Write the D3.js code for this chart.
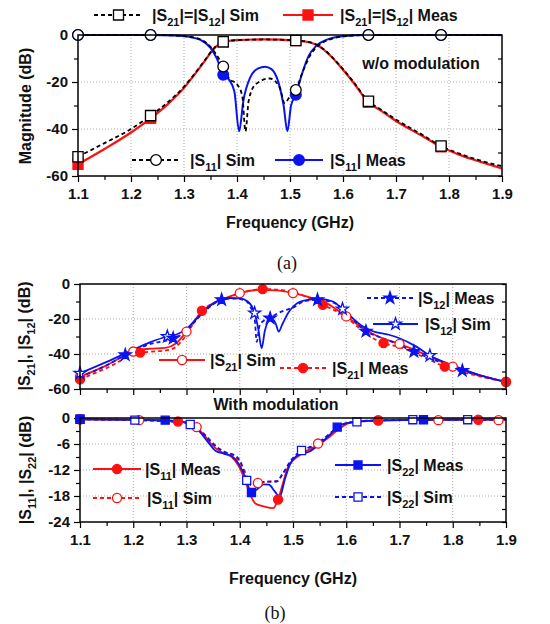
<!DOCTYPE html>
<html>
<head>
<meta charset="utf-8">
<script src="https://cdn.jsdelivr.net/npm/d3@7"></script>
<style>
  body { margin: 0; background: #fff; }
  svg text { font-family: "Liberation Sans", Arial, sans-serif; font-weight: bold; fill: #111; }
</style>
</head>
<body>
<svg id="chart" width="550" height="624"></svg>
<script>
// ---- data (frequency GHz, magnitude dB) ----
const freqTicks = [1.1, 1.2, 1.3, 1.4, 1.5, 1.6, 1.7, 1.8, 1.9]
const dbTicks60 = [0, -20, -40, -60]
const dbTicks24 = [0, -6, -12, -18, -24]

// (a) without modulation
const a_s21Sim = [[1.15,-46],[1.2,-40],[1.27,-28.5],[1.3,-22],[1.32,-16.5],[1.34,-10.5],[1.355,-6],[1.4,-2.2],[1.45,-1.9],[1.54,-3.2],[1.56,-5.5],[1.58,-9.5],[1.6,-14.5],[1.62,-20],[1.67,-31.5],[1.7,-36],[1.75,-42.5],[1.82,-50.5],[1.86,-53.5],[1.9,-55.8]]
const a_s21SimMk = [[1.1,-51.8],[1.237,-34.3],[1.374,-2.9],[1.511,-2.3],[1.648,-28.2],[1.785,-47.2]]
const a_s21Meas = [[1.15,-48.5],[1.2,-41.5],[1.27,-29.3],[1.3,-22.5],[1.32,-16.8],[1.34,-10.8],[1.355,-6.2],[1.4,-2.2],[1.45,-1.9],[1.54,-3.3],[1.56,-5.6],[1.58,-9.7],[1.6,-14.8],[1.62,-20.3],[1.67,-32],[1.7,-36.6],[1.75,-43],[1.82,-51],[1.86,-54],[1.9,-56.8]]
const a_s21MeasMk = [[1.1,-55],[1.237,-35.5],[1.374,-3],[1.511,-2.4],[1.648,-28.7],[1.785,-47.6]]
const a_s11Sim = [[1.2,0],[1.28,-0.2],[1.31,-0.7],[1.33,-1.8],[1.35,-5],[1.36,-8],[1.385,-18.5],[1.4,-21],[1.41,-26],[1.416,-41],[1.422,-28],[1.435,-21],[1.462,-18.5],[1.48,-22],[1.49,-29],[1.5,-26],[1.525,-15],[1.54,-8],[1.56,-3.5],[1.58,-1.5],[1.6,-0.6],[1.9,0]]
const a_s11SimMk = [[1.1,0],[1.237,0],[1.374,-13.4],[1.511,-23.4],[1.648,0],[1.785,0]]
const a_s11Meas = [[1.28,-0.2],[1.31,-0.8],[1.33,-2],[1.35,-5.5],[1.362,-10],[1.385,-19],[1.395,-24],[1.404,-41],[1.412,-28],[1.425,-18],[1.44,-14.2],[1.453,-13.5],[1.465,-14.5],[1.478,-20],[1.488,-30],[1.495,-41],[1.502,-30],[1.522,-17],[1.535,-9],[1.55,-4.5],[1.57,-2],[1.6,-0.5],[1.9,0]]
const a_s11MeasMk = [[1.1,0],[1.237,0],[1.374,-16.9],[1.511,-25.4],[1.648,0],[1.785,0]]

// (b) with modulation, |S21| and |S12|
const b_s21Sim = [[1.15,-46.5],[1.23,-37],[1.26,-36.5],[1.28,-34],[1.32,-19],[1.34,-13],[1.37,-8.5],[1.44,-3.3],[1.47,-3.6],[1.53,-7.5],[1.56,-10.5],[1.63,-25],[1.66,-30],[1.75,-40.5],[1.85,-52]]
const b_s21SimMk = [[1.1,-53],[1.2,-38.6],[1.3,-27.2],[1.4,-5.2],[1.5,-5.2],[1.6,-18.5],[1.7,-34.2],[1.8,-47.2],[1.9,-55.8]]
const b_s21Meas = [[1.15,-48],[1.25,-38.3],[1.27,-37.5],[1.29,-33],[1.31,-24],[1.35,-11],[1.38,-7.5],[1.41,-4.5],[1.48,-3.5],[1.51,-5.5],[1.53,-8],[1.59,-17],[1.62,-24],[1.645,-30],[1.7,-36],[1.74,-41],[1.84,-52]]
const b_s21MeasMk = [[1.1,-54.5],[1.213,-39.2],[1.329,-15.3],[1.443,-2.9],[1.556,-11.9],[1.67,-33.8],[1.785,-47.2],[1.9,-56]]
const b_s12Sim = [[1.15,-44.5],[1.2,-37.5],[1.23,-33.5],[1.28,-29],[1.3,-25.5],[1.32,-19.5],[1.34,-13.5],[1.36,-9.5],[1.38,-8],[1.4,-8.2],[1.415,-10],[1.435,-26],[1.441,-36.7],[1.447,-27],[1.455,-21],[1.463,-20.5],[1.468,-23],[1.473,-27.2],[1.48,-23],[1.49,-17],[1.5,-13],[1.52,-9.5],[1.55,-8.5],[1.575,-10],[1.61,-19],[1.63,-24],[1.65,-27],[1.68,-29],[1.7,-31],[1.73,-35.5],[1.8,-46.5],[1.85,-52],[1.9,-56]]
const b_s12SimMk = [[1.1,-51],[1.264,-30],[1.428,-16.6],[1.593,-14.3],[1.757,-40.9]]
const b_s12Meas = [[1.1,-53],[1.15,-46.5],[1.23,-34.5],[1.3,-27],[1.32,-20],[1.34,-14],[1.39,-8.3],[1.41,-9.5],[1.42,-13],[1.428,-20],[1.432,-33],[1.437,-24],[1.445,-21],[1.47,-17],[1.485,-15],[1.5,-13.5],[1.52,-10],[1.575,-10.5],[1.6,-16],[1.62,-22.5],[1.66,-30],[1.69,-33.5],[1.77,-44],[1.86,-53],[1.9,-56]]
const b_s12MeasMk = [[1.185,-40.5],[1.275,-31],[1.366,-9],[1.457,-19.5],[1.546,-9],[1.637,-27],[1.727,-38.6],[1.818,-49.5]]

// (b) with modulation, |S11| and |S22|
const c_s11Meas = [[1.2,-0.4],[1.31,-1.6],[1.33,-3.5],[1.35,-6.5],[1.37,-8.2],[1.385,-9],[1.4,-11.5],[1.41,-14.5],[1.42,-17.8],[1.43,-19.8],[1.445,-20.4],[1.463,-20.8],[1.48,-15.5],[1.49,-11.5],[1.5,-9.8],[1.52,-8],[1.55,-6],[1.57,-4.2],[1.59,-2.2],[1.61,-1],[1.75,-0.4],[1.9,-0.3]]
const c_s11MeasMk = [[1.1,-0.3],[1.284,-0.8],[1.472,-18.8],[1.66,-0.6],[1.848,-0.4]]
const c_s11Sim = [[1.27,-0.7],[1.3,-1.2],[1.34,-4.5],[1.355,-6.5],[1.375,-8],[1.39,-8.8],[1.4,-10.2],[1.41,-12.5],[1.42,-15.5],[1.45,-14.7],[1.47,-14.6],[1.48,-13],[1.5,-9.5],[1.52,-7.5],[1.57,-3.8],[1.59,-1.8],[1.62,-0.8],[1.9,-0.5]]
const c_s11SimMk = [[1.1,-0.3],[1.211,-0.5],[1.319,-2.1],[1.434,-15],[1.547,-5.9],[1.66,-0.5],[1.773,-0.5],[1.886,-0.5]]
const c_s22Meas = [[1.3,-1],[1.32,-2.5],[1.34,-5.5],[1.355,-7.6],[1.37,-8.2],[1.385,-8.8],[1.4,-11],[1.41,-13.5],[1.435,-16.2],[1.445,-15.3],[1.455,-15.4],[1.465,-16.8],[1.475,-18.2],[1.485,-14],[1.495,-10.5],[1.51,-8.5],[1.53,-7.8],[1.55,-6],[1.57,-3.8],[1.6,-1.2],[1.65,-0.6],[1.9,-0.3]]
const c_s22MeasMk = [[1.1,-0.3],[1.26,-0.5],[1.422,-17.2],[1.583,-2.1],[1.745,-0.4]]
const c_s22Sim = [[1.27,-0.8],[1.33,-3.5],[1.35,-6],[1.37,-7.8],[1.39,-8.6],[1.403,-10.5],[1.425,-15.5],[1.44,-14.8],[1.47,-14.6],[1.48,-13],[1.495,-10],[1.54,-6.3],[1.56,-4.5],[1.58,-2.5],[1.6,-1.2],[1.9,-0.3]]
const c_s22SimMk = [[1.1,-0.3],[1.203,-0.5],[1.307,-1.5],[1.413,-14.4],[1.516,-7.5],[1.62,-0.9],[1.725,-0.4],[1.828,-0.4]]

const RED = '#ff1010'
const BLUE = '#0a14f0'
const BLACK = '#000'

const svg = d3.select('#chart')

// text with {subscript} parts
function rich(t, str) {
	let shift = 0
	str.split(/(\{[^}]*\})/).forEach(p => {
		if (!p) return
		if (p[0] === '{') {
			t.append('tspan').attr('dy', 5 - shift).attr('font-size', 11).text(p.slice(1, -1))
			shift = 5
		} else {
			t.append('tspan').attr('dy', -shift).text(p)
			shift = 0
		}
	})
	return t
}

function merge(line, marks) {
	const keep = line.filter(p => !marks.some(m => Math.abs(m[0] - p[0]) < 0.0015))
	return d3.sort(keep.concat(marks), d => d[0])
}

let clipId = 0
function panel(o) {
	const x = d3.scaleLinear().domain([1.1, 1.9]).range([o.x0, o.x1])
	const y = d3.scaleLinear().domain([o.ticks[o.ticks.length - 1], 0]).range([o.y1, o.y0])
	const g = svg.append('g')
	const id = 'clip' + (clipId++)
	g.append('clipPath').attr('id', id).append('rect')
		.attr('x', o.x0).attr('y', o.y0 - 2).attr('width', o.x1 - o.x0).attr('height', o.y1 - o.y0 + 4)

	// dotted grid
	g.append('g').selectAll('line').data(freqTicks.slice(1, -1)).join('line')
		.attr('x1', d => x(d)).attr('x2', d => x(d)).attr('y1', o.y0).attr('y2', o.y1)
		.attr('stroke', '#aaa').attr('stroke-dasharray', '1,2')
	g.append('g').selectAll('line').data(o.ticks.slice(1, -1)).join('line')
		.attr('y1', d => y(d)).attr('y2', d => y(d)).attr('x1', o.x0).attr('x2', o.x1)
		.attr('stroke', '#aaa').attr('stroke-dasharray', '1,2')

	const minorX = d3.range(1.15, 1.9, 0.1)
	const step = o.ticks[0] - o.ticks[1]
	const minorY = o.ticks.slice(0, -1).map(t => t - step / 2)

	const styleAxis = a => {
		a.select('.domain').remove()
		a.selectAll('line').attr('stroke', '#000').attr('stroke-width', 1.2)
		a.selectAll('text').attr('font-size', 15).attr('fill', '#111')
	}
	g.append('g').attr('transform', `translate(0,${o.y1})`)
		.call(d3.axisBottom(x).tickValues(freqTicks).tickSize(6).tickPadding(6)
			.tickFormat(o.xLabels ? d => d.toFixed(1) : ''))
		.call(styleAxis)
	g.append('g').attr('transform', `translate(0,${o.y1})`)
		.call(d3.axisBottom(x).tickValues(minorX).tickSize(4).tickFormat(''))
		.call(styleAxis)
	g.append('g').attr('transform', `translate(${o.x0},0)`)
		.call(d3.axisLeft(y).tickValues(o.ticks).tickSize(6).tickPadding(4).tickFormat(d => String(d)))
		.call(styleAxis)
	g.append('g').attr('transform', `translate(${o.x0},0)`)
		.call(d3.axisLeft(y).tickValues(minorY).tickSize(4).tickFormat(''))
		.call(styleAxis)
	g.append('g').attr('transform', `translate(${o.x1},0)`)
		.call(d3.axisRight(y).tickValues(o.ticks.concat(minorY)).tickSize(-4).tickFormat(''))
		.call(styleAxis)

	const plot = g.append('g').attr('clip-path', `url(#${id})`)
	const marks = g.append('g')
	g.append('rect').attr('x', o.x0).attr('y', o.y0).attr('width', o.x1 - o.x0).attr('height', o.y1 - o.y0)
		.attr('fill', 'none').attr('stroke', '#000').attr('stroke-width', 1.5)
	return { x, y, g, plot, marks }
}

const line = (p) => d3.line().x(d => p.x(d[0])).y(d => p.y(d[1])).curve(d3.curveMonotoneX)

function curve(p, pts, mk, color, dash, w) {
	p.plot.append('path').datum(merge(pts, mk))
		.attr('d', line(p)).attr('fill', 'none').attr('stroke', color)
		.attr('stroke-width', w || 1.8).attr('stroke-dasharray', dash || null)
}

function sym(type, size) {
	return d3.symbol().type(type).size(size)()
}

function markers(p, mk, type, size, color, filled) {
	p.marks.append('g').selectAll('path').data(mk).join('path')
		.attr('transform', d => `translate(${p.x(d[0])},${p.y(d[1])})`)
		.attr('d', sym(type, size))
		.attr('fill', filled ? color : '#fff').attr('stroke', color).attr('stroke-width', 1.3)
}

function legend(x0, x1, y, color, dash, type, size, filled, tx, label) {
	const g = svg.append('g')
	g.append('line').attr('x1', x0).attr('x2', x1).attr('y1', y).attr('y2', y)
		.attr('stroke', color).attr('stroke-width', 1.8).attr('stroke-dasharray', dash || null)
	g.append('path').attr('transform', `translate(${(x0 + x1) / 2},${y})`).attr('d', sym(type, size))
		.attr('fill', filled ? color : '#fff').attr('stroke', color).attr('stroke-width', 1.3)
	rich(g.append('text').attr('x', tx).attr('y', y + 6).attr('font-size', 16), label)
}

const DASH = '4,3'
const STAR = 45

// ---- panel (a) ----
const pa = panel({ x0: 78, x1: 502, y0: 35, y1: 176, ticks: dbTicks60, xLabels: true })
curve(pa, a_s21Meas, a_s21MeasMk, RED, null, 2.2)
curve(pa, a_s11Meas, a_s11MeasMk, BLUE, null, 2)
curve(pa, a_s21Sim, a_s21SimMk, BLACK, DASH, 1.8)
curve(pa, a_s11Sim, a_s11SimMk, BLACK, DASH, 1.8)
markers(pa, a_s21MeasMk, d3.symbolSquare, 100, RED, true)
markers(pa, a_s11MeasMk, d3.symbolCircle, 90, BLUE, true)
markers(pa, a_s21SimMk, d3.symbolSquare, 105, BLACK, false)
markers(pa, a_s11SimMk, d3.symbolCircle, 90, BLACK, false)

legend(94, 143, 15, BLACK, DASH, d3.symbolSquare, 100, false, 152, '|S{21}|=|S{12}| Sim')
legend(283, 333, 15, RED, null, d3.symbolSquare, 100, true, 340, '|S{21}|=|S{12}| Meas')
legend(132, 180, 160, BLACK, DASH, d3.symbolCircle, 90, false, 190, '|S{11}| Sim')
legend(275, 323, 160, BLUE, null, d3.symbolCircle, 90, true, 330, '|S{11}| Meas')
svg.append('text').attr('x', 421).attr('y', 69).attr('text-anchor', 'middle').attr('font-size', 16).text('w/o modulation')

svg.append('text').attr('x', 290).attr('y', 228).attr('text-anchor', 'middle').attr('font-size', 16).text('Frequency (GHz)')
svg.append('text').attr('transform', 'translate(31,106) rotate(-90)').attr('text-anchor', 'middle').attr('font-size', 16).text('Magnitude (dB)')
svg.append('text').attr('x', 287).attr('y', 269).attr('text-anchor', 'middle').attr('font-size', 18)
	.style('font-family', '"Liberation Serif", "Times New Roman", serif').style('font-weight', 'normal').text('(a)')

// ---- panel (b) upper ----
const pb = panel({ x0: 80, x1: 506, y0: 284, y1: 389, ticks: dbTicks60, xLabels: false })
curve(pb, b_s21Sim, b_s21SimMk, RED, null, 1.8)
curve(pb, b_s21Meas, b_s21MeasMk, RED, DASH, 1.8)
curve(pb, b_s12Sim, b_s12SimMk, BLUE, null, 1.8)
curve(pb, b_s12Meas, b_s12MeasMk, BLUE, DASH, 1.8)
markers(pb, b_s21SimMk, d3.symbolCircle, 65, RED, false)
markers(pb, b_s21MeasMk, d3.symbolCircle, 65, RED, true)
markers(pb, b_s12SimMk, d3.symbolStar, STAR, BLUE, false)
markers(pb, b_s12MeasMk, d3.symbolStar, STAR, BLUE, true)

legend(367, 413, 298, BLUE, DASH, d3.symbolStar, STAR, true, 418, '|S{12}| Meas')
legend(373, 418, 324, BLUE, null, d3.symbolStar, STAR, false, 425, '|S{12}| Sim')
legend(159, 205, 360, RED, null, d3.symbolCircle, 65, false, 210, '|S{21}| Sim')
legend(280, 326, 368, RED, DASH, d3.symbolCircle, 65, true, 332, '|S{21}| Meas')
rich(svg.append('text').attr('transform', 'translate(30,336) rotate(-90)').attr('text-anchor', 'middle').attr('font-size', 16), '|S{21}|, |S{12}| (dB)')

svg.append('text').attr('x', 276).attr('y', 410).attr('text-anchor', 'middle').attr('font-size', 16).text('With modulation')

// ---- panel (b) lower ----
const pc = panel({ x0: 80, x1: 506, y0: 418, y1: 522, ticks: dbTicks24, xLabels: true })
curve(pc, c_s11Meas, c_s11MeasMk, RED, null, 1.8)
curve(pc, c_s11Sim, c_s11SimMk, RED, DASH, 1.8)
curve(pc, c_s22Meas, c_s22MeasMk, BLUE, null, 1.8)
curve(pc, c_s22Sim, c_s22SimMk, BLUE, DASH, 1.8)
markers(pc, c_s11SimMk, d3.symbolCircle, 65, RED, false)
markers(pc, c_s11MeasMk, d3.symbolCircle, 65, RED, true)
markers(pc, c_s22SimMk, d3.symbolSquare, 65, BLUE, false)
markers(pc, c_s22MeasMk, d3.symbolSquare, 65, BLUE, true)

legend(93, 141, 469, RED, null, d3.symbolCircle, 65, true, 145, '|S{11}| Meas')
legend(93, 141, 498, RED, DASH, d3.symbolCircle, 65, false, 147, '|S{11}| Sim')
legend(335, 381, 465, BLUE, null, d3.symbolSquare, 65, true, 387, '|S{22}| Meas')
legend(335, 381, 497, BLUE, DASH, d3.symbolSquare, 65, false, 387, '|S{22}| Sim')
rich(svg.append('text').attr('transform', 'translate(31,470) rotate(-90)').attr('text-anchor', 'middle').attr('font-size', 16), '|S{11}|, |S{22}| (dB)')

svg.append('text').attr('x', 293).attr('y', 584).attr('text-anchor', 'middle').attr('font-size', 16).text('Frequency (GHz)')
svg.append('text').attr('x', 275).attr('y', 619).attr('text-anchor', 'middle').attr('font-size', 18)
	.style('font-family', '"Liberation Serif", "Times New Roman", serif').style('font-weight', 'normal').text('(b)')
</script>
</body>
</html>
